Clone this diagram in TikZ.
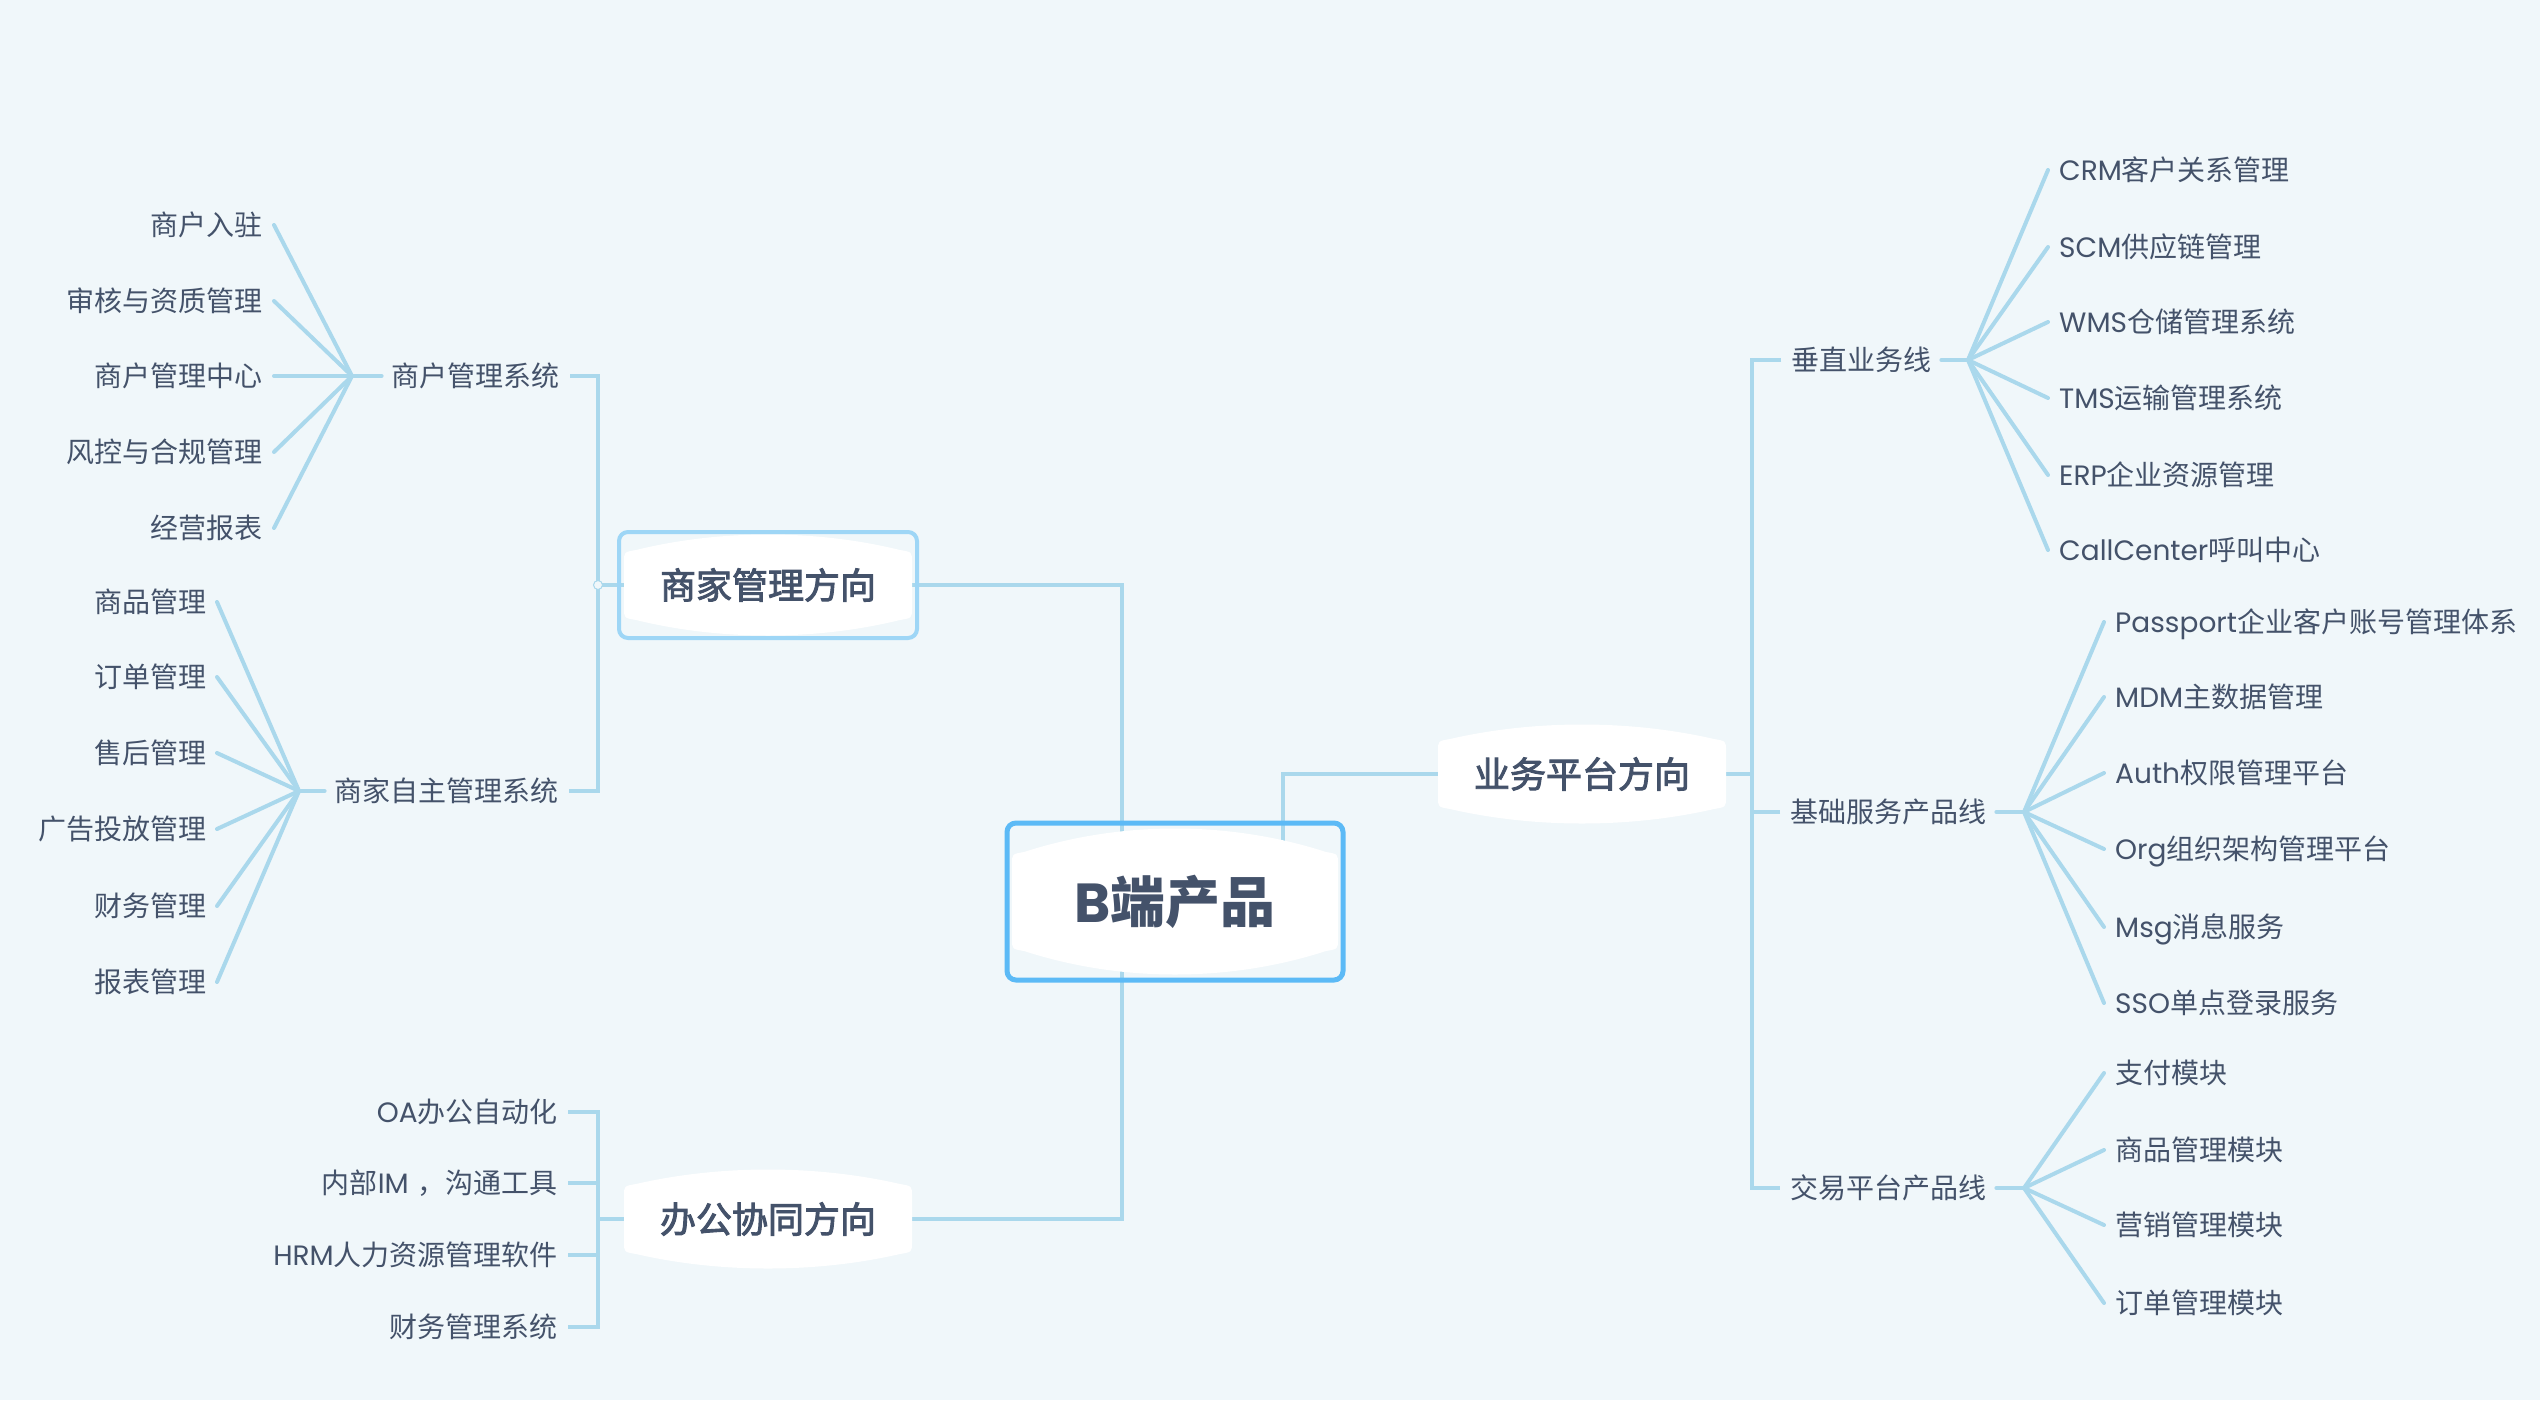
\documentclass[tikz,border=0pt]{standalone}
\usepackage{fontspec}
\setmainfont{Noto Sans CJK SC}
\newfontfamily\latfont{Poppins}
\newfontfamily\midfont[FakeBold=2.5]{Noto Sans CJK SC}
\newcommand\latn[1]{{\latfont #1}}
\usetikzlibrary{calc}
\definecolor{bgc}{RGB}{240,247,250}
\definecolor{linec}{RGB}{170,216,236}
\definecolor{txtc}{RGB}{68,82,106}
\definecolor{boxc}{RGB}{92,186,246}
\definecolor{boxlc}{RGB}{158,214,246}
\pgfdeclarelayer{bgl}
\pgfdeclarelayer{lines}
\pgfdeclarelayer{pills}
\pgfsetlayers{bgl,lines,pills,main}
\newcommand\pillowshape[5]{%
  \fill[white, shift={(#1,#2)}]
  ({-#3},{-#4+10}) -- ({-#3},{#4-10})
  .. controls ({-#3},{#4}) .. ({-#3+12},{#4+2})
  .. controls ({-#3/3},{#4+#5*4/3}) and ({#3/3},{#4+#5*4/3}) .. ({#3-12},{#4+2})
  .. controls ({#3},{#4}) .. ({#3},{#4-10})
  -- ({#3},{-#4+10})
  .. controls ({#3},{-#4}) .. ({#3-12},{-#4-2})
  .. controls ({#3/3},{-#4-#5*4/3}) and ({-#3/3},{-#4-#5*4/3}) .. ({-#3+12},{-#4-2})
  .. controls ({-#3},{-#4}) .. cycle;}
\tikzset{
  conn/.style={draw=linec, line width=4pt, line cap=round},
  leafR/.style={anchor=west, inner xsep=11pt, inner ysep=0pt, text=txtc,
    font=\fontsize{28}{32}\selectfont, text height=24.6pt, text depth=3.4pt},
  leafL/.style={leafR, anchor=east},
  lvltwo/.style={inner xsep=10pt, inner ysep=0pt, text=txtc,
    font=\fontsize{28}{32}\selectfont, text height=24.6pt, text depth=3.4pt},
  lvlone/.style={inner sep=0pt, text=txtc,
    font=\fontsize{36}{40}\selectfont\midfont, text height=31.7pt, text depth=4.3pt},
  rootstyle/.style={inner sep=0pt, text=txtc,
    font=\fontsize{55}{60}\selectfont\bfseries, text height=48.4pt, text depth=6.6pt}
}
\begin{document}
\begin{tikzpicture}[x=1pt,y=-1pt]
\useasboundingbox (0,0) rectangle (2540,1400);
\begin{pgfonlayer}{bgl}
\fill[bgc] (0,0) rectangle (2540,1400);
\end{pgfonlayer}

% main nodes
\node[rootstyle, draw=boxc, line width=5pt, rounded corners=9pt, minimum width=336pt, minimum height=157pt] (root) at (1175,901.5) {\latn{B}端产品};
\node[lvlone, draw=boxlc, line width=4pt, rounded corners=9pt, minimum width=298pt, minimum height=106pt] (sj) at (768,585) {商家管理方向};
\node[lvlone] (yw) at (1582,774) {业务平台方向};
\node[lvlone] (office) at (768,1219) {办公协同方向};

\begin{pgfonlayer}{pills}
\pillowshape{1175}{901.5}{163}{47.5}{25}
\pillowshape{768}{585}{144}{33}{17}
\pillowshape{1582}{774}{144}{33}{16}
\pillowshape{768}{1219}{144}{33}{16}
\end{pgfonlayer}

% level two
\node[lvltwo, anchor=east] (shgl) at (570,376) {商户管理系统};
\node[lvltwo, anchor=east] (zzgl) at (569,791) {商家自主管理系统};
\node[lvltwo, anchor=west] (czyw) at (1781,360) {垂直业务线};
\node[lvltwo, anchor=west] (jcfw) at (1780,812) {基础服务产品线};
\node[lvltwo, anchor=west] (jypt) at (1780,1188) {交易平台产品线};

\coordinate (f1) at (352,376);
\coordinate (f2) at (299,791);
\coordinate (f3) at (1968,360);
\coordinate (f4) at (2024,812);
\coordinate (f5) at (2024,1188);
\coordinate (lt) at (598,585);
\coordinate (rt) at (1752,774);
\coordinate (bt) at (598,1219);

% leaves
\foreach \y/\t [count=\i] in {225/商户入驻, 301/审核与资质管理, 376/商户管理中心, 452/风控与合规管理, 528/经营报表}
  \node[leafL] (a\i) at (274,\y) {\t};
\foreach \y/\t [count=\i] in {602/商品管理, 677/订单管理, 753/售后管理, 829/广告投放管理, 906/财务管理, 982/报表管理}
  \node[leafL, inner xsep=10pt] (b\i) at (217,\y) {\t};
\foreach \y/\t [count=\i] in {170/\latn{CRM}客户关系管理, 247/\latn{SCM}供应链管理, 322/\latn{WMS}仓储管理系统, 398/\latn{TMS}运输管理系统, 475/\latn{ERP}企业资源管理, 550/\latn{CallCenter}呼叫中心}
  \node[leafR] (c\i) at (2048,\y) {\t};
\foreach \y/\t [count=\i] in {622/\latn{Passport}企业客户账号管理体系, 697/\latn{MDM}主数据管理, 773/\latn{Auth}权限管理平台, 849/\latn{Org}组织架构管理平台, 927/\latn{Msg}消息服务, 1003/\latn{SSO}单点登录服务}
  \node[leafR] (d\i) at (2104,\y) {\t};
\foreach \y/\t [count=\i] in {1073/支付模块, 1150/商品管理模块, 1225/营销管理模块, 1303/订单管理模块}
  \node[leafR] (e\i) at (2104,\y) {\t};
\foreach \y/\t [count=\i] in {1112/\latn{OA}办公自动化, 1183/内部\latn{IM}\hspace{9pt}，沟通工具, 1255/\latn{HRM}人力资源管理软件, 1327/财务管理系统}
  \node[leafL, inner xsep=10pt] (g\i) at (568,\y) {\t};

\node[circle, draw=linec, fill=bgc, line width=1pt, minimum size=9pt, inner sep=0pt] (ltc) at (lt) {};

\begin{pgfonlayer}{lines}
% root connections
\draw[conn, line cap=butt] (sj.center) -| ([xshift=-53pt]root.center);
\draw[conn, line cap=butt] (office.center) -| ([xshift=-53pt]root.center);
\draw[conn, line cap=butt] (yw.center) -| ([xshift=108pt]root.center);
% left trunk
\draw[conn, line cap=butt] (shgl.east) -| (lt) |- (zzgl.east);
\draw[conn, line cap=butt] (lt) -- (sj.center);
% bottom-left trunk
\draw[conn, line cap=butt] (g1.east) -| (bt) |- (g4.east);
\draw[conn, line cap=butt] (g2.east) -- (g2.east -| bt);
\draw[conn, line cap=butt] (g3.east) -- (g3.east -| bt);
\draw[conn, line cap=butt] (bt) -- (office.center);
% right trunk
\draw[conn, line cap=butt] (czyw.west) -| (rt) |- (jypt.west);
\draw[conn, line cap=butt] (jcfw.west) -- (jcfw.west -| rt);
\draw[conn, line cap=butt] (yw.center) -- (rt);
% fans
\draw[conn] (shgl.west) -- (f1);
\draw[conn] (zzgl.west) -- (f2);
\draw[conn] (czyw.east) -- (f3);
\draw[conn] (jcfw.east) -- (f4);
\draw[conn] (jypt.east) -- (f5);
\foreach \i in {1,...,5} \draw[conn] (f1) -- (a\i.east);
\foreach \i in {1,...,6} \draw[conn] (f2) -- (b\i.east);
\foreach \i in {1,...,6} \draw[conn] (f3) -- (c\i.west);
\foreach \i in {1,...,6} \draw[conn] (f4) -- (d\i.west);
\foreach \i in {1,...,4} \draw[conn] (f5) -- (e\i.west);
\end{pgfonlayer}
\end{tikzpicture}
\end{document}
